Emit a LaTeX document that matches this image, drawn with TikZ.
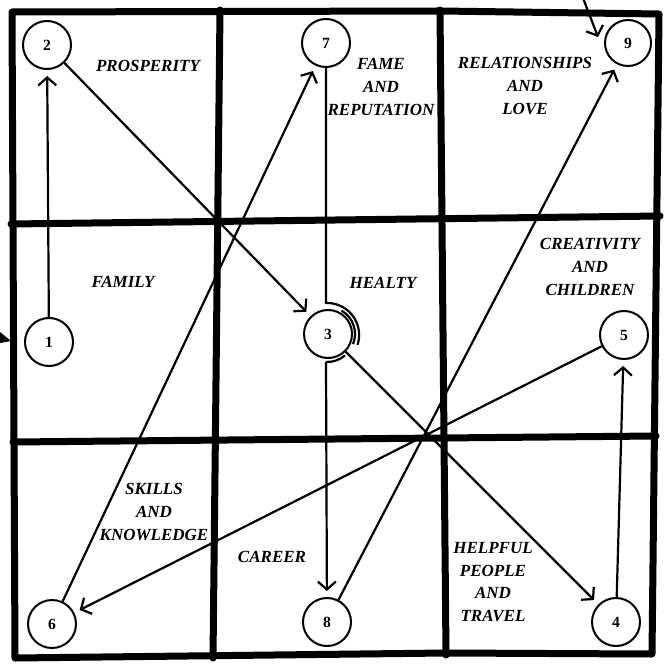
\documentclass[tikz,border=0pt]{standalone}
\usepackage{fontspec}
\setmainfont{Liberation Serif}
\usetikzlibrary{arrows.meta}
\begin{document}
\begin{tikzpicture}[x=0.5pt,y=-0.5pt,
  gridline/.style={line width=3.5pt, line cap=round, line join=round},
  num/.style={circle, draw, line width=1pt, minimum size=24pt, inner sep=0pt, font=\fontsize{7.8}{9}\selectfont\bfseries},
  lbl/.style={font=\fontsize{8.5}{11.3}\selectfont\bfseries\itshape, align=center, inner sep=0pt},
  conn/.style={line width=1.1pt},
  arr/.style={conn, -{Straight Barb[length=4pt,width=9pt]}, shorten >=3pt}
]
\useasboundingbox (0,0) rectangle (664,667);
% grid
\draw[gridline] (12,12) -- (440,11) -- (659,14) -- (652,654) -- (446,653) -- (15,658) -- cycle;
\draw[gridline] (220,10) -- (213,658);
\draw[gridline] (440,10) -- (446,655);
\draw[gridline] (11,224) -- (660,216);
\draw[gridline] (13,442) -- (656,436);
% circles
\node[num] (c1) at (49,342) {1};
\node[num] (c2) at (47,45) {2};
\node[num] (c3) at (328,334) {3};
\node[num] (c4) at (616,622) {4};
\node[num] (c5) at (624,335) {5};
\node[num] (c6) at (52,624) {6};
\node[num] (c7) at (326,43) {7};
\node[num] (c8) at (327,622) {8};
\node[num, minimum size=23pt] (c9) at (628,43) {9};
% labels
\node[lbl] (tprosp) at (148,66) {PROSPERITY};
\node[lbl] (tfame) at (381,87) {FAME\\AND\\REPUTATION};
\node[lbl] (trel) at (525,86) {RELATIONSHIPS\\AND\\LOVE};
\node[lbl] (tfam) at (123,282) {FAMILY};
\node[lbl] (theal) at (383,283) {HEALTY};
\node[lbl] (tcrea) at (590,267) {CREATIVITY\\AND\\CHILDREN};
\node[lbl] (tskill) at (154,512) {SKILLS\\AND\\KNOWLEDGE};
\node[lbl] (tcar) at (272,557) {CAREER};
\node[lbl] (thelp) at (493,582) {HELPFUL\\PEOPLE\\AND\\TRAVEL};
% connectors
\draw[arr] (c1) -- (c2);
\draw[arr] (c2) -- (c3);
\draw[arr] (c3) -- (c4);
\draw[arr] (c4) -- (c5);
\draw[arr] (c5) -- (c6);
\draw[arr] (c6) -- (c7);
\coordinate (ja) at (326,303);
\coordinate (jb) at (326,362);
\draw[conn] (c7) -- (ja) arc[start angle=-92, end angle=18, radius=32];
\draw[conn] ([shift={(-60:27)}]c3.center) arc[start angle=-60, end angle=22, radius=27];
\draw[conn] (jb) arc[start angle=92, end angle=50, radius=28];
\draw[arr] (jb) -- (c8);
\draw[arr] (c8) -- (c9);
% fragments at the margins
\coordinate (fa) at (583,-2);
\coordinate (fb) at (598,37);
\draw[conn, -{Straight Barb[length=4pt,width=9pt]}] (fa) -- (fb);
\fill (0,332) -- (11,341) -- (0,343) -- cycle;
\end{tikzpicture}
\end{document}
